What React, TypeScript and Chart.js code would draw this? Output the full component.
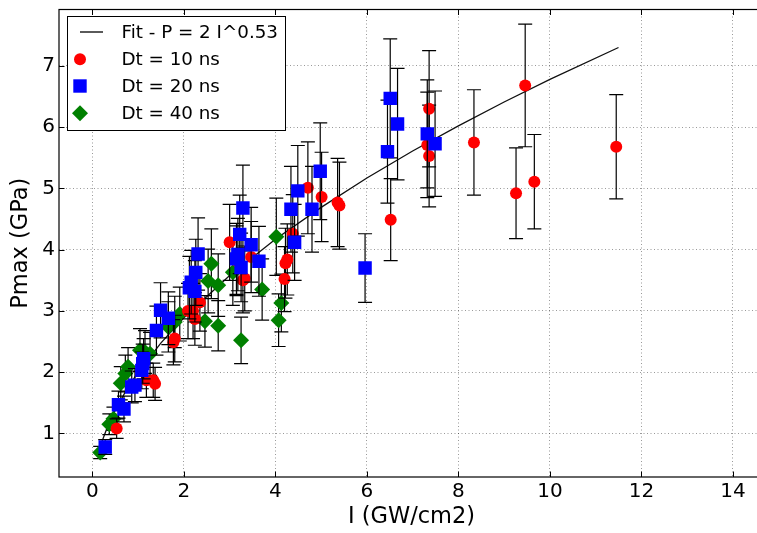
import React, { useEffect, useRef } from "react";
import { Chart, registerables } from "chart.js";

Chart.register(...registerables);

// ---- data ----
const xTicks = [0, 2, 4, 6, 8, 10, 12, 14];
const yTicks = [1, 2, 3, 4, 5, 6, 7];

const fitI = [0.2, 0.35, 0.5, 0.75, 1, 1.5, 2, 3, 4, 5, 6, 7, 8, 9, 10, 11.5];
const fitP = [0.85, 1.15, 1.38, 1.72, 2.0, 2.48, 2.89, 3.58, 4.17, 4.69, 5.17, 5.61, 6.02, 6.41, 6.78, 7.3];

const redI = [0.53, 1.18, 1.33, 1.37, 1.77, 1.8, 2.09, 2.2, 2.24, 2.35, 3.0, 3.15, 3.29, 3.33, 3.47, 4.2, 4.22, 4.26, 4.38, 4.71, 5.01, 5.36, 5.4, 6.52, 7.32, 7.36, 7.36, 8.34, 9.26, 9.46, 9.66, 11.45];
const redP = [1.08, 1.87, 1.87, 1.81, 2.49, 2.55, 3.0, 3.0, 2.87, 3.14, 4.12, 3.82, 3.5, 3.53, 3.88, 3.52, 3.78, 3.84, 4.26, 5.01, 4.86, 4.77, 4.72, 4.49, 5.71, 5.53, 6.3, 5.75, 4.92, 6.68, 5.11, 5.68];
const redErr = [0.16, 0.28, 0.28, 0.27, 0.37, 0.38, 0.45, 0.45, 0.43, 0.47, 0.62, 0.57, 0.53, 0.53, 0.58, 0.53, 0.57, 0.58, 0.64, 0.75, 0.73, 0.72, 0.71, 0.67, 0.86, 0.83, 0.95, 0.86, 0.74, 1.0, 0.77, 0.85];

const blueI = [0.28, 0.57, 0.69, 0.86, 0.93, 1.08, 1.1, 1.12, 1.4, 1.49, 1.66, 2.12, 2.16, 2.24, 2.26, 2.31, 3.15, 3.18, 3.22, 3.25, 3.29, 3.47, 3.64, 4.34, 4.42, 4.49, 4.8, 4.98, 5.96, 6.45, 6.51, 6.67, 7.32, 7.49];
const blueP = [0.78, 1.47, 1.4, 1.76, 1.79, 2.03, 2.14, 2.22, 2.68, 3.01, 2.88, 3.38, 3.47, 3.32, 3.63, 3.93, 3.85, 3.92, 4.25, 3.71, 4.68, 4.08, 3.81, 4.66, 4.12, 4.96, 4.66, 5.28, 3.7, 5.6, 6.47, 6.05, 5.89, 5.73];
const blueErr = [0.12, 0.22, 0.21, 0.26, 0.27, 0.3, 0.32, 0.33, 0.4, 0.45, 0.43, 0.51, 0.52, 0.5, 0.54, 0.59, 0.58, 0.59, 0.64, 0.56, 0.7, 0.61, 0.57, 0.7, 0.62, 0.74, 0.7, 0.79, 0.56, 0.84, 0.97, 0.91, 0.88, 0.86];

const greenI = [0.17, 0.37, 0.46, 0.62, 0.72, 0.78, 1.04, 1.15, 1.26, 1.66, 1.8, 1.91, 2.46, 2.53, 2.6, 2.75, 2.75, 3.07, 3.25, 3.71, 4.02, 4.07, 4.13];
const greenP = [0.69, 1.15, 1.24, 1.82, 1.98, 2.09, 2.36, 2.33, 2.3, 2.74, 2.82, 2.95, 2.83, 3.49, 3.77, 3.42, 2.76, 3.63, 2.52, 3.35, 4.21, 2.85, 3.13];
const greenErr = [0.1, 0.17, 0.19, 0.27, 0.3, 0.31, 0.35, 0.35, 0.35, 0.41, 0.42, 0.44, 0.42, 0.52, 0.57, 0.51, 0.41, 0.54, 0.38, 0.5, 0.63, 0.43, 0.47];

const legendLabels = ["Fit - P = 2 I^0.53", "Dt = 10 ns", "Dt = 20 ns", "Dt = 40 ns"];

const RED = "#ff0000";
const BLUE = "#0000ff";
const GREEN = "#008000";
const FONT = "'DejaVu Sans', 'Bitstream Vera Sans', sans-serif";

const toPts = (xs: number[], ys: number[]) => xs.map((x, i) => ({ x, y: ys[i] }));

const errorBarPlugin = {
  id: "errorBars",
  beforeDatasetDraw(chart: any, args: any) {
    const ds = chart.data.datasets[args.index];
    const errs: number[] | undefined = ds.errors;
    if (!errs) return;
    const { ctx, chartArea } = chart;
    const xs = chart.scales.x;
    const ys = chart.scales.y;
    ctx.save();
    ctx.beginPath();
    ctx.rect(chartArea.left, chartArea.top, chartArea.right - chartArea.left, chartArea.bottom - chartArea.top);
    ctx.clip();
    ctx.strokeStyle = "#000";
    ctx.lineWidth = 1.2;
    const cap = 7;
    ds.data.forEach((pt: any, i: number) => {
      const x = xs.getPixelForValue(pt.x);
      const y1 = ys.getPixelForValue(pt.y + errs[i]);
      const y2 = ys.getPixelForValue(pt.y - errs[i]);
      ctx.beginPath();
      ctx.moveTo(x, y1);
      ctx.lineTo(x, y2);
      ctx.moveTo(x - cap, y1);
      ctx.lineTo(x + cap, y1);
      ctx.moveTo(x - cap, y2);
      ctx.lineTo(x + cap, y2);
      ctx.stroke();
    });
    ctx.restore();
  },
};

const framePlugin = {
  id: "frameAndLegend",
  afterDraw(chart: any) {
    const { ctx, chartArea } = chart;
    const { left, right, top, bottom } = chartArea;
    const xs = chart.scales.x;
    const ys = chart.scales.y;
    ctx.save();
    ctx.strokeStyle = "#000";
    ctx.lineWidth = 1.2;
    ctx.strokeRect(left, top, right - left, bottom - top);
    const tl = 5.5;
    ctx.lineWidth = 1;
    ctx.beginPath();
    xTicks.forEach((v) => {
      const x = Math.round(xs.getPixelForValue(v)) + 0.5;
      ctx.moveTo(x, bottom);
      ctx.lineTo(x, bottom - tl);
      ctx.moveTo(x, top);
      ctx.lineTo(x, top + tl);
    });
    yTicks.forEach((v) => {
      const y = Math.round(ys.getPixelForValue(v)) + 0.5;
      ctx.moveTo(left, y);
      ctx.lineTo(left + tl, y);
      ctx.moveTo(right, y);
      ctx.lineTo(right - tl, y);
    });
    ctx.stroke();

    // legend box
    const bx = 67.5, by = 16.5, bw = 218, bh = 114;
    ctx.fillStyle = "#fff";
    ctx.fillRect(bx, by, bw, bh);
    ctx.strokeStyle = "#000";
    ctx.lineWidth = 1;
    ctx.strokeRect(bx, by, bw, bh);
    const rowY = [32, 59.3, 86, 113.3];
    const mx = 80;
    // fit line
    ctx.beginPath();
    ctx.lineWidth = 1.3;
    ctx.strokeStyle = "#000";
    ctx.moveTo(mx, rowY[0]);
    ctx.lineTo(103, rowY[0]);
    ctx.stroke();
    // circle
    ctx.fillStyle = RED;
    ctx.beginPath();
    ctx.arc(mx, rowY[1], 6, 0, Math.PI * 2);
    ctx.fill();
    // square
    ctx.fillStyle = BLUE;
    ctx.fillRect(mx - 6.7, rowY[2] - 6.7, 13.4, 13.4);
    // diamond
    ctx.fillStyle = GREEN;
    ctx.beginPath();
    ctx.moveTo(mx, rowY[3] - 8);
    ctx.lineTo(mx + 8, rowY[3]);
    ctx.lineTo(mx, rowY[3] + 8);
    ctx.lineTo(mx - 8, rowY[3]);
    ctx.closePath();
    ctx.fill();
    // texts
    ctx.fillStyle = "#000";
    ctx.font = `18.3px ${FONT}`;
    ctx.textBaseline = "middle";
    ctx.textAlign = "left";
    legendLabels.forEach((t, i) => ctx.fillText(t, 121.5, rowY[i] + 1));
    ctx.restore();
  },
};

export default function App() {
  const ref = useRef<HTMLCanvasElement | null>(null);

  useEffect(() => {
    if (!ref.current) return;
    const chart = new Chart(ref.current, {
      type: "scatter",
      data: {
        datasets: [
          {
            label: legendLabels[2],
            data: toPts(blueI, blueP),
            errors: blueErr,
            pointStyle: "rect",
            pointRadius: 9.5,
            pointBackgroundColor: BLUE,
            pointBorderWidth: 0,
            order: 0,
          } as any,
          {
            label: legendLabels[1],
            data: toPts(redI, redP),
            errors: redErr,
            pointStyle: "circle",
            pointRadius: 6,
            pointBackgroundColor: RED,
            pointBorderWidth: 0,
            order: 1,
          } as any,
          {
            label: legendLabels[3],
            data: toPts(greenI, greenP),
            errors: greenErr,
            pointStyle: "rectRot",
            pointRadius: 8,
            pointBackgroundColor: GREEN,
            pointBorderWidth: 0,
            order: 2,
          } as any,
          {
            label: legendLabels[0],
            data: toPts(fitI, fitP),
            showLine: true,
            borderColor: "#111",
            borderWidth: 1.3,
            pointRadius: 0,
            fill: false,
            tension: 0,
            order: 3,
          } as any,
        ],
      },
      options: {
        animation: false,
        responsive: false,
        devicePixelRatio: 1,
        events: [],
        layout: { padding: { top: 8, right: 11, left: 0, bottom: 0 } },
        plugins: {
          legend: { display: false },
          tooltip: { enabled: false },
        },
        scales: {
          x: {
            type: "linear",
            min: -0.73,
            max: 14.68,
            afterBuildTicks: (axis: any) => {
              axis.ticks = xTicks.map((v) => ({ value: v }));
            },
            afterFit: (scale: any) => {
              scale.height = 56;
              scale.paddingLeft = 0;
              scale.paddingRight = 0;
            },
            grid: { color: "rgba(0,0,0,0.4)", lineWidth: 1, drawTicks: false },
            border: { display: false, dash: [1, 2.5] },
            ticks: {
              color: "#000",
              padding: 3,
              font: { family: FONT, size: 20 },
              callback: (v: any) => String(v),
            },
            title: {
              display: true,
              text: "I (GW/cm2)",
              color: "#000",
              font: { family: FONT, size: 22.5 },
              padding: { top: 0, bottom: 2 },
            },
          },
          y: {
            type: "linear",
            min: 0.29,
            max: 7.92,
            afterBuildTicks: (axis: any) => {
              axis.ticks = yTicks.map((v) => ({ value: v }));
            },
            afterFit: (scale: any) => {
              scale.width = 59;
              scale.paddingTop = 0;
              scale.paddingBottom = 0;
            },
            grid: { color: "rgba(0,0,0,0.4)", lineWidth: 1, drawTicks: false },
            border: { display: false, dash: [1, 2.5] },
            ticks: {
              color: "#000",
              padding: 4,
              font: { family: FONT, size: 20 },
              callback: (v: any) => String(v),
            },
            title: {
              display: true,
              text: "Pmax (GPa)",
              color: "#000",
              font: { family: FONT, size: 22.5 },
              padding: { top: 8, bottom: 0 },
            },
          },
        },
      } as any,
      plugins: [errorBarPlugin, framePlugin],
    });
    return () => chart.destroy();
  }, []);

  return (
    <div style={{ position: "absolute", left: 0, top: 0, width: 757, height: 533, overflow: "hidden", background: "#fff" }}>
      <canvas ref={ref} width={775} height={533} style={{ display: "block" }} />
    </div>
  );
}
